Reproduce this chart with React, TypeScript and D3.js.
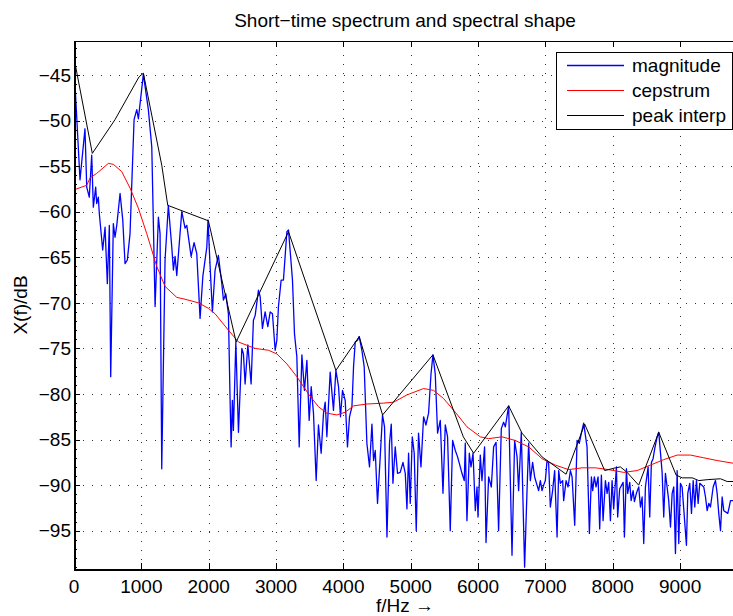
import React from 'react';
import * as d3 from 'd3';

// frequency in Hz, level in dB
const magnitude: [number, number][] = [
  [0, -43.9], [89, -56.5], [163, -50.9], [189, -57.3], [227, -58.4], [263, -53.8], [287, -59.5],
  [322, -57.3], [337, -59.1], [361, -58.4], [376, -60.2], [426, -64.2], [461, -61.7], [495, -67.9],
  [525, -61.5], [545, -78.1], [584, -61.3], [609, -62.8], [635, -61.5], [684, -58.0], [724, -60.9],
  [758, -65.7], [792, -65.3], [832, -62.4], [892, -49.9], [932, -48.8], [956, -49.8], [1030, -44.9],
  [1104, -48.8], [1155, -52.9], [1204, -70.4], [1253, -60.6], [1278, -62.4], [1303, -88.2],
  [1352, -65.3], [1401, -59.3], [1452, -63.9], [1476, -66.4], [1501, -64.9], [1526, -67.0],
  [1600, -60.0], [1649, -61.8], [1675, -61.5], [1739, -64.9], [1783, -63.4], [1823, -64.6],
  [1872, -71.7], [1913, -67.1], [1972, -63.9], [1990, -60.9], [2021, -66.0], [2055, -71.0],
  [2095, -66.4], [2144, -64.8], [2195, -67.9], [2219, -69.7], [2254, -69.0], [2293, -71.2],
  [2318, -80.7], [2333, -85.8], [2352, -80.7], [2367, -84.0], [2403, -74.3], [2442, -84.2],
  [2492, -75.0], [2516, -75.6], [2541, -78.9], [2581, -74.6], [2630, -78.9], [2664, -71.9],
  [2690, -71.4], [2739, -68.6], [2764, -69.3], [2798, -72.8], [2838, -71.0], [2878, -72.6],
  [2913, -71.0], [2947, -71.2], [2987, -75.2], [3012, -74.1], [3036, -70.4], [3076, -67.5],
  [3110, -67.5], [3161, -62.2], [3185, -62.0], [3244, -67.5], [3274, -73.4], [3309, -75.9],
  [3344, -85.8], [3384, -75.7], [3422, -79.6], [3458, -76.3], [3492, -82.9], [3522, -79.2],
  [3556, -82.1], [3596, -89.5], [3630, -83.4], [3670, -86.5], [3705, -82.1], [3730, -80.9],
  [3755, -84.7], [3804, -77.6], [3853, -81.8], [3889, -77.4], [3928, -79.2], [3957, -82.5],
  [3987, -79.6], [4027, -80.7], [4061, -85.8], [4091, -82.5], [4127, -81.4], [4151, -77.0],
  [4176, -74.3], [4210, -74.1], [4235, -73.7], [4275, -75.2], [4309, -77.0], [4349, -85.4],
  [4388, -88.0], [4424, -83.3], [4448, -87.3], [4473, -86.2], [4507, -92.0], [4547, -86.9],
  [4581, -82.3], [4611, -83.6], [4647, -95.7], [4685, -85.4], [4711, -83.3], [4736, -89.8],
  [4770, -85.8], [4804, -88.7], [4844, -88.6], [4885, -87.5], [4919, -88.7], [4944, -92.6],
  [4968, -86.5], [4993, -92.0], [5023, -84.7], [5052, -86.5], [5082, -95.0], [5116, -84.3],
  [5152, -88.0], [5191, -82.5], [5226, -83.4], [5265, -82.1], [5301, -77.8], [5330, -75.7],
  [5364, -77.8], [5399, -84.3], [5439, -82.9], [5479, -90.9], [5513, -83.4], [5547, -84.7],
  [5587, -95.0], [5622, -85.1], [5662, -86.2], [5696, -86.9], [5761, -88.7], [5795, -89.5],
  [5810, -85.4], [5835, -93.9], [5870, -86.5], [5895, -88.0], [5925, -86.5], [5959, -92.8],
  [5984, -90.2], [5999, -93.5], [6033, -86.7], [6058, -89.5], [6097, -85.8], [6118, -96.3],
  [6157, -89.1], [6197, -90.2], [6231, -85.8], [6267, -85.3], [6305, -95.0], [6345, -83.8],
  [6379, -83.1], [6405, -83.6], [6454, -81.3], [6504, -97.7], [6543, -85.1], [6579, -86.9],
  [6602, -90.6], [6642, -84.2], [6691, -99.0], [6727, -90.6], [6751, -85.4], [6776, -89.5],
  [6810, -87.5], [6840, -89.1], [6899, -90.6], [6925, -89.5], [6950, -90.6], [6974, -90.0],
  [6999, -89.5], [7024, -87.3], [7048, -87.6], [7073, -92.4], [7107, -90.6], [7137, -88.4],
  [7173, -95.7], [7197, -88.4], [7222, -89.8], [7256, -89.5], [7271, -91.7], [7307, -89.5],
  [7336, -90.2], [7371, -88.4], [7396, -89.1], [7435, -94.4], [7470, -85.1], [7504, -85.4],
  [7534, -84.3], [7568, -83.2], [7618, -85.8], [7653, -95.3], [7683, -89.1], [7702, -90.6],
  [7727, -89.1], [7752, -90.2], [7782, -89.1], [7806, -94.8], [7831, -88.9], [7856, -93.9],
  [7891, -89.5], [7916, -90.9], [7940, -89.7], [7965, -93.9], [7990, -89.5], [8014, -92.6],
  [8054, -88.0], [8073, -93.5], [8103, -90.4], [8154, -89.7], [8173, -95.7], [8203, -88.2],
  [8222, -90.9], [8252, -89.7], [8273, -91.7], [8302, -90.6], [8322, -91.8], [8351, -90.9],
  [8386, -90.2], [8411, -92.4], [8436, -91.3], [8460, -96.4], [8485, -90.2], [8525, -88.0],
  [8549, -93.5], [8574, -87.5], [8599, -87.1], [8623, -86.0], [8659, -84.7], [8683, -84.2],
  [8733, -88.6], [8757, -93.5], [8782, -88.7], [8807, -90.2], [8831, -91.7], [8857, -94.6],
  [8882, -90.9], [8906, -90.2], [8931, -97.5], [8956, -88.4], [8980, -96.4], [9005, -89.8],
  [9030, -90.2], [9094, -96.6], [9114, -90.9], [9143, -89.8], [9169, -93.1], [9194, -89.5],
  [9218, -92.4], [9243, -89.5], [9268, -92.0], [9292, -89.8], [9351, -90.2], [9377, -91.3],
  [9402, -92.8], [9426, -92.0], [9451, -92.4], [9491, -90.2], [9525, -89.5], [9550, -90.9],
  [9574, -93.1], [9600, -95.0], [9624, -91.3], [9649, -92.8], [9708, -93.1], [9729, -92.4],
  [9748, -91.7], [9793, -91.7], [9830, -91.0],
];

const cepstrum: [number, number][] = [
  [0, -57.6], [189, -57.1], [238, -56.3], [337, -55.8], [510, -54.7], [584, -54.8], [709, -55.6],
  [832, -57.4], [955, -59.6], [1080, -62.4], [1229, -66.0], [1352, -68.2], [1526, -69.4],
  [1649, -69.6], [1847, -70.0], [1996, -70.6], [2095, -71.2], [2293, -73.0], [2442, -74.3],
  [2690, -75.0], [2887, -75.2], [3012, -75.6], [3161, -76.7], [3309, -78.1], [3482, -80.0],
  [3630, -81.4], [3755, -82.1], [3904, -82.3], [4027, -82.0], [4151, -81.3], [4350, -81.1],
  [4596, -81.0], [4745, -80.9], [4944, -80.1], [5191, -79.4], [5339, -79.6], [5488, -80.5],
  [5662, -82.0], [5835, -83.6], [6033, -84.7], [6157, -84.9], [6356, -84.7], [6553, -85.1],
  [6751, -85.8], [6950, -87.1], [7148, -87.8], [7345, -88.3], [7544, -88.1], [7742, -88.1],
  [7940, -88.3], [8163, -88.6], [8362, -88.4], [8559, -87.8], [8757, -87.2], [8956, -86.7],
  [9154, -86.7], [9351, -87.0], [9550, -87.3], [9793, -87.6], [9830, -87.7],
];

const peakInterp: [number, number][] = [
  [20, -43.9], [272, -53.6], [609, -49.9], [966, -45.2], [1030, -44.8], [1303, -54.9],
  [1392, -59.3], [1996, -61.0], [2407, -74.3], [3185, -62.2], [3889, -77.4], [4235, -73.7],
  [4582, -82.3], [5330, -75.7], [5781, -84.7], [5934, -86.5], [6454, -81.3], [6653, -84.3],
  [6950, -86.9], [7307, -88.8], [7583, -83.3], [7880, -88.4], [8039, -88.1], [8114, -88.0],
  [8213, -88.6], [8385, -90.0], [8683, -84.2], [8941, -88.9], [9031, -89.2], [9180, -89.2],
  [9278, -89.5], [9402, -89.4], [9600, -89.3], [9699, -89.6], [9793, -89.6], [9830, -89.6],
];

const xTicks = [0, 1000, 2000, 3000, 4000, 5000, 6000, 7000, 8000, 9000];
const yTicks = [-95, -90, -85, -80, -75, -70, -65, -60, -55, -50, -45];
const seriesNames = ['magnitude', 'cepstrum', 'peak interp'];
const seriesColors = ['#0000ff', '#ff0000', '#000000'];

const W = 733;
const H = 616;
const left = 74, right = 736, top = 41, bottom = 569;
const font = '"Liberation Sans", Arial, Helvetica, sans-serif';
const fs = 19;

export default function App() {
  const x = d3.scaleLinear().domain([0, 9830]).range([left, right]);
  const y = d3.scaleLinear().domain([-99.2, -41.27]).range([bottom, top]);
  const line = d3.line<[number, number]>().x(d => x(d[0])).y(d => y(d[1]));
  const minor = d3.range(-99, -41).filter(v => v % 5 !== 0);
  const series = [magnitude, cepstrum, peakInterp];

  return (
    <div style={{ position: 'fixed', left: 0, top: 0 }}>
      <svg width={W} height={H} style={{ display: 'block', background: '#fff', fontFamily: font }}>
        <defs>
          <clipPath id="plot">
            <rect x={left} y={top} width={right - left} height={bottom - top} />
          </clipPath>
        </defs>
        <rect x={left} y={top} width={right - left} height={bottom - top} fill="#fff" />

        {/* dotted grid */}
        <g stroke="#333" strokeWidth={1} strokeDasharray="1 8" shapeRendering="crispEdges">
          {xTicks.slice(1).map(t => (
            <line key={'gx' + t} x1={Math.round(x(t)) + 0.5} x2={Math.round(x(t)) + 0.5} y1={bottom} y2={top} />
          ))}
          {yTicks.map(t => (
            <line key={'gy' + t} x1={left} x2={right} y1={Math.round(y(t)) + 0.5} y2={Math.round(y(t)) + 0.5} />
          ))}
        </g>

        <g clipPath="url(#plot)" fill="none" strokeLinejoin="round">
          {series.map((s, i) => (
            <path key={i} d={line(s) || ''} stroke={seriesColors[i]} strokeWidth={i === 0 ? 1.3 : 1} />
          ))}
        </g>

        {/* axes box and ticks */}
        <g stroke="#000" strokeWidth={1} shapeRendering="crispEdges">
          <line x1={left + 0.5} x2={left + 0.5} y1={top} y2={bottom + 1} strokeWidth={2} />
          <line x1={left} x2={right} y1={bottom + 0.5} y2={bottom + 0.5} strokeWidth={2} />
          <line x1={left} x2={right} y1={top + 0.5} y2={top + 0.5} />
          {xTicks.map(t => (
            <g key={'tx' + t}>
              <line x1={Math.round(x(t)) + 0.5} x2={Math.round(x(t)) + 0.5} y1={bottom} y2={bottom - 6} />
              <line x1={Math.round(x(t)) + 0.5} x2={Math.round(x(t)) + 0.5} y1={top} y2={top + 6} />
            </g>
          ))}
          {yTicks.map(t => (
            <line key={'ty' + t} x1={left} x2={left + 6} y1={Math.round(y(t)) + 0.5} y2={Math.round(y(t)) + 0.5} />
          ))}
          {minor.map(t => (
            <line key={'my' + t} x1={left} x2={left + 3} y1={Math.round(y(t)) + 0.5} y2={Math.round(y(t)) + 0.5} />
          ))}
        </g>

        <g fontSize={fs} fill="#000">
          {xTicks.map(t => (
            <text key={'lx' + t} x={x(t)} y={593} textAnchor="middle">{t}</text>
          ))}
          {yTicks.map(t => (
            <text key={'ly' + t} x={71} y={y(t)} dy="0.35em" textAnchor="end">
              {'\u2212' + Math.abs(t)}
            </text>
          ))}
          <text x={(left + right) / 2} y={27} textAnchor="middle">Short{'\u2212'}time spectrum and spectral shape</text>
          <text x={(left + right) / 2} y={612} textAnchor="middle">f/Hz {'\u2192'}</text>
          <text transform={`translate(27,${(top + bottom) / 2}) rotate(-90)`} textAnchor="middle">X(f)/dB</text>
        </g>

        {/* legend */}
        <g>
          <rect x={556.5} y={52.5} width={176} height={77} fill="#fff" stroke="#000" strokeWidth={1} />
          {seriesNames.map((n, i) => (
            <g key={n} transform={`translate(0,${65.5 + i * 25})`}>
              <line x1={567} x2={624} y1={0} y2={0} stroke={seriesColors[i]} strokeWidth={i === 0 ? 1.3 : 1} />
              <text x={632} y={0} dy="0.35em" fontSize={fs}>{n}</text>
            </g>
          ))}
        </g>
      </svg>
    </div>
  );
}
